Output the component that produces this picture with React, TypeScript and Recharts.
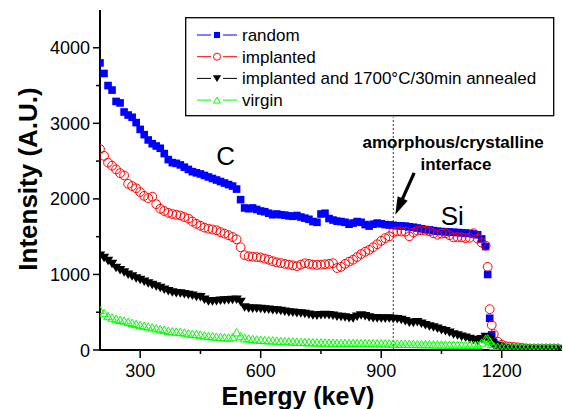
import React from 'react';
import { ScatterChart, Scatter, XAxis, YAxis, ReferenceLine, ReferenceDot, Legend } from 'recharts';

// energy grid (keV) shared by all four spectra
const energy = [
  200, 210, 220, 230, 240, 250, 260, 270, 280, 290,
  300, 310, 320, 330, 340, 350, 360, 370, 380, 390,
  400, 410, 420, 430, 440, 450, 460, 470, 480, 490,
  500, 510, 520, 530, 540, 550, 560, 570, 580, 590,
  600, 610, 620, 630, 640, 650, 660, 670, 680, 690,
  700, 710, 720, 730, 740, 750, 760, 770, 780, 790,
  800, 810, 820, 830, 840, 850, 860, 870, 880, 890,
  900, 910, 920, 930, 940, 950, 960, 970, 980, 990,
  1000, 1010, 1020, 1030, 1040, 1050, 1060, 1070, 1080, 1090,
  1100, 1110, 1120, 1130, 1140, 1150, 1160, 1165, 1170, 1175,
  1180, 1190, 1200, 1210, 1220, 1230, 1240, 1250, 1260, 1270,
  1280, 1290, 1300, 1310, 1320, 1330, 1340,
];

const random = [
  3800, 3660, 3500, 3440, 3290, 3270, 3150, 3110, 3080, 3010,
  2920, 2850, 2780, 2730, 2700, 2670, 2600, 2520, 2480, 2470,
  2450, 2420, 2390, 2360, 2345, 2330, 2310, 2290, 2270, 2250,
  2230, 2210, 2190, 2170, 2130, 1990, 1880, 1870, 1880, 1860,
  1840, 1830, 1810, 1790, 1800, 1790, 1785, 1775, 1770, 1780,
  1760, 1745, 1730, 1700, 1690, 1800, 1810, 1740, 1720, 1705,
  1700, 1690, 1665, 1680, 1700, 1690, 1660, 1640, 1665, 1680,
  1670, 1660, 1655, 1650, 1645, 1642, 1640, 1630, 1625, 1615,
  1605, 1595, 1590, 1580, 1572, 1568, 1565, 1562, 1558, 1555,
  1552, 1548, 1543, 1535, 1525, 1470, 1370, 1000, 420, 200,
  100, 60, 40, 30, 25, 20, 20, 20, 20, 20,
  20, 20, 20, 20, 20, 20, 20,
];

const implanted = [
  2660, 2570, 2480, 2440, 2390, 2340, 2310, 2200, 2170, 2140,
  2090, 2040, 2010, 2030, 1930, 1870, 1840, 1815, 1800, 1790,
  1780, 1760, 1740, 1700, 1670, 1645, 1620, 1605, 1595, 1585,
  1560, 1540, 1520, 1495, 1465, 1360, 1255, 1240, 1235, 1230,
  1225, 1210, 1195, 1175, 1160, 1150, 1140, 1130, 1120, 1110,
  1130, 1148, 1140, 1130, 1125, 1130, 1135, 1140, 1148, 1085,
  1100, 1140, 1170, 1195, 1230, 1270, 1300, 1325, 1360, 1400,
  1445, 1480, 1505, 1560, 1570, 1568, 1565, 1505, 1555, 1580,
  1585, 1580, 1570, 1545, 1525, 1540, 1545, 1520, 1490, 1495,
  1490, 1480, 1485, 1545, 1475, 1420, 1380, 1100, 540, 330,
  210, 110, 70, 50, 45, 40, 35, 30, 20, 15,
  10, 10, 10, 10, 10, 10, 10,
];

const annealed = [
  1250, 1220, 1180, 1140, 1090, 1060, 1030, 1000, 975, 950,
  930, 905, 885, 865, 845, 825, 800, 780, 765, 755,
  750, 740, 730, 720, 705, 700, 670, 645, 645, 650,
  655, 660, 662, 665, 670, 640, 565, 552, 550, 548,
  545, 540, 535, 530, 525, 520, 510, 500, 495, 490,
  488, 480, 470, 460, 455, 462, 465, 462, 455, 445,
  440, 435, 425, 420, 445, 460, 450, 435, 425, 420,
  420, 418, 420, 415, 410, 400, 385, 365, 360, 370,
  350, 330, 315, 300, 285, 265, 250, 230, 210, 195,
  180, 165, 150, 135, 125, 145, 175, 160, 135, 100,
  70, 45, 25, 15, 5, 0, 0, 0, 0, 0,
  0, 0, 0, 0, 0, 0, 0,
];

const virgin = [
  530, 490, 450, 430, 415, 400, 390, 375, 360, 345,
  332, 322, 312, 300, 288, 278, 268, 255, 248, 244,
  240, 232, 222, 215, 210, 204, 194, 186, 182, 178,
  174, 170, 165, 170, 235, 185, 158, 152, 146, 140,
  135, 132, 129, 128, 125, 120, 118, 116, 113, 110,
  108, 106, 104, 103, 102, 100, 99, 98, 97, 96,
  95, 95, 94, 94, 93, 92, 92, 91, 90, 90,
  89, 88, 87, 86, 85, 84, 83, 82, 81, 80,
  79, 78, 77, 76, 75, 74, 73, 72, 71, 70,
  70, 69, 68, 67, 68, 100, 150, 155, 120, 80,
  55, 45, 40, 40, 40, 40, 40, 40, 40, 40,
  40, 40, 40, 40, 40, 40, 40,
];

const seriesNames = ['random', 'implanted', 'implanted and 1700°C/30min annealed', 'virgin'];
const seriesColors = ['#0000ff', '#ff0000', '#000000', '#00ff00'];

const xTicks = [300, 450, 600, 750, 900, 1050, 1200];
const xMajor = [300, 600, 900, 1200];
const yTicks = [0, 500, 1000, 1500, 2000, 2500, 3000, 3500, 4000];
const yMajor = [0, 1000, 2000, 3000, 4000];

const FONT = '"Liberation Sans", Arial, Helvetica, sans-serif';

const toPoints = (vals: number[]) => energy.map((e, i) => ({ e, v: vals[i] }));

// marker glyphs, centred on (cx, cy)
const glyph = (kind: number, cx: number, cy: number, s = 1) => {
  if (kind === 0) {
    const h = 3.8 * s;
    return <rect x={cx - h} y={cy - h} width={2 * h} height={2 * h} fill={seriesColors[0]} />;
  }
  if (kind === 1) {
    return <circle cx={cx} cy={cy} r={4.4 * s} fill="none" stroke={seriesColors[1]} strokeWidth={1} />;
  }
  if (kind === 2) {
    return (
      <path
        d={`M${cx - 5.2 * s},${cy - 4 * s}L${cx + 5.2 * s},${cy - 4 * s}L${cx},${cy + 4.5 * s}Z`}
        fill={seriesColors[2]}
      />
    );
  }
  return (
    <path
      d={`M${cx - 4.3 * s},${cy + 3.7 * s}L${cx + 4.3 * s},${cy + 3.7 * s}L${cx},${cy - 3.7 * s}Z`}
      fill="none"
      stroke={seriesColors[3]}
      strokeWidth={1}
    />
  );
};

const shapeOf = (kind: number) => (p: any) => glyph(kind, p.cx, p.cy);

const BottomTick = ({ x, y, payload }: any) => {
  const major = xMajor.includes(payload.value);
  return (
    <g>
      <line x1={x} y1={y} x2={x} y2={y + (major ? 8 : 4)} stroke="#000" strokeWidth={1.5} />
      {major && (
        <text x={x} y={y + 27} textAnchor="middle" fontSize={18} fill="#000">
          {payload.value}
        </text>
      )}
    </g>
  );
};

const LeftTick = ({ x, y, payload }: any) => {
  const major = yMajor.includes(payload.value);
  return (
    <g>
      <line x1={x} y1={y} x2={x - (major ? 7 : 4)} y2={y} stroke="#000" strokeWidth={1.5} />
      {major && (
        <text x={x - 10} y={y + 6.5} textAnchor="end" fontSize={18} fill="#000">
          {payload.value}
        </text>
      )}
    </g>
  );
};

const TopTick = ({ x, y, payload }: any) => {
  const major = xMajor.includes(payload.value);
  return <line x1={x} y1={y} x2={x} y2={y + (major ? 7 : 5)} stroke="#000" strokeWidth={1.2} />;
};

const RightTick = ({ x, y }: any) => <line x1={x} y1={y} x2={x - 5} y2={y} stroke="#000" strokeWidth={1.2} />;

const YTitle = ({ viewBox }: any) => {
  const cx = viewBox.x + 37;
  const cy = viewBox.y + viewBox.height / 2 - 1;
  return (
    <text x={cx} y={cy} transform={`rotate(-90 ${cx} ${cy})`} textAnchor="middle" fontSize={26} fontWeight="bold" fill="#000">
      Intensity (A.U.)
    </text>
  );
};

const XTitle = ({ viewBox }: any) => (
  <text x={viewBox.x + 198} y={viewBox.y + 55} textAnchor="middle" fontSize={25} fontWeight="bold" fill="#000">
    Energy (keV)
  </text>
);

const Arrow = (p: any) => {
  const { x1, y1, x2, y2 } = p;
  const dx = x2 - x1;
  const dy = y2 - y1;
  const len = Math.sqrt(dx * dx + dy * dy);
  const ux = dx / len;
  const uy = dy / len;
  const head = 18;
  const half = 5.5;
  const bx = x2 - ux * head;
  const by = y2 - uy * head;
  return (
    <g>
      <line x1={x1} y1={y1} x2={bx + ux * 2} y2={by + uy * 2} stroke="#000" strokeWidth={3.2} />
      <path d={`M${x2},${y2}L${bx - uy * half},${by + ux * half}L${bx + uy * half},${by - ux * half}Z`} fill="#000" />
    </g>
  );
};

const renderLegend = () => (
  <svg width={370} height={100} style={{ display: 'block' }}>
    <rect x={0.7} y={0.7} width={368} height={98} fill="#fff" stroke="#000" strokeWidth={1.3} />
    {seriesNames.map((name, i) => {
      const cy = 18 + i * 21.7;
      return (
        <g key={name}>
          <line x1={12} y1={cy} x2={52} y2={cy} stroke={seriesColors[i]} strokeWidth={1} />
          <rect x={26} y={cy - 5} width={12} height={10} fill="#fff" />
          {glyph(i, 32, cy, 0.8)}
          <text x={57} y={cy + 6} fontSize={17} fill="#000">
            {name}
          </text>
        </g>
      );
    })}
  </svg>
);

export default function App() {
  const annoStyle = { fill: '#000', fontFamily: FONT };
  return (
    <div style={{ position: 'absolute', left: 0, top: 0, fontFamily: FONT, background: '#fff' }}>
      <ScatterChart width={563} height={409} margin={{ top: 10, right: 1, bottom: 0, left: 0 }}>
        <XAxis
          dataKey="e"
          type="number"
          domain={[200, 1350]}
          allowDataOverflow
          ticks={xTicks}
          interval={0}
          tickSize={0}
          tickMargin={0}
          tick={<BottomTick />}
          axisLine={{ stroke: '#000', strokeWidth: 2 }}
          height={59}
          label={<XTitle />}
        />
        <XAxis
          xAxisId="top"
          orientation="top"
          type="number"
          domain={[200, 1350]}
          allowDataOverflow
          ticks={xTicks}
          interval={0}
          tickSize={0}
          tickMargin={0}
          tick={<TopTick />}
          axisLine={{ stroke: '#000', strokeWidth: 1.5 }}
          height={0}
        />
        <YAxis
          dataKey="v"
          type="number"
          domain={[0, 4500]}
          allowDataOverflow
          ticks={yTicks}
          interval={0}
          tickSize={0}
          tickMargin={0}
          tick={<LeftTick />}
          axisLine={{ stroke: '#000', strokeWidth: 2 }}
          width={100}
          label={<YTitle />}
        />
        <YAxis
          yAxisId="right"
          orientation="right"
          type="number"
          domain={[0, 4500]}
          allowDataOverflow
          ticks={yTicks}
          interval={0}
          tickSize={0}
          tickMargin={0}
          tick={<RightTick />}
          axisLine={{ stroke: '#000', strokeWidth: 1.5 }}
          width={0}
        />
        <ReferenceLine
          segment={[{ x: 930, y: 0 }, { x: 930, y: 3080 }]}
          stroke="#333"
          strokeWidth={1}
          strokeDasharray="2 2"
        />
        <Scatter name={seriesNames[0]} data={toPoints(random)} shape={shapeOf(0)} isAnimationActive={false} />
        <Scatter name={seriesNames[1]} data={toPoints(implanted)} shape={shapeOf(1)} isAnimationActive={false} />
        <Scatter name={seriesNames[2]} data={toPoints(annealed)} shape={shapeOf(2)} isAnimationActive={false} />
        <Scatter name={seriesNames[3]} data={toPoints(virgin)} shape={shapeOf(3)} isAnimationActive={false} />
        <ReferenceLine segment={[{ x: 982, y: 2345 }, { x: 935, y: 1789 }]} shape={Arrow} />
        <ReferenceDot x={513} y={2573} r={0} fill="none" stroke="none"
          label={{ value: 'C', position: 'center', fontSize: 26, ...annoStyle }} />
        <ReferenceDot x={1077} y={1778} r={0} fill="none" stroke="none"
          label={{ value: 'Si', position: 'center', fontSize: 26, ...annoStyle }} />
        <ReferenceDot x={1079} y={2756} r={0} fill="none" stroke="none"
          label={{ value: 'amorphous/crystalline', position: 'center', fontSize: 17, fontWeight: 'bold', ...annoStyle }} />
        <ReferenceDot x={1086} y={2465} r={0} fill="none" stroke="none"
          label={{ value: 'interface', position: 'center', fontSize: 17, fontWeight: 'bold', ...annoStyle }} />
        <Legend
          layout="vertical"
          align="center"
          verticalAlign="middle"
          content={renderLegend}
          wrapperStyle={{ left: 185, top: 17, width: 370, height: 100 }}
        />
      </ScatterChart>
    </div>
  );
}
